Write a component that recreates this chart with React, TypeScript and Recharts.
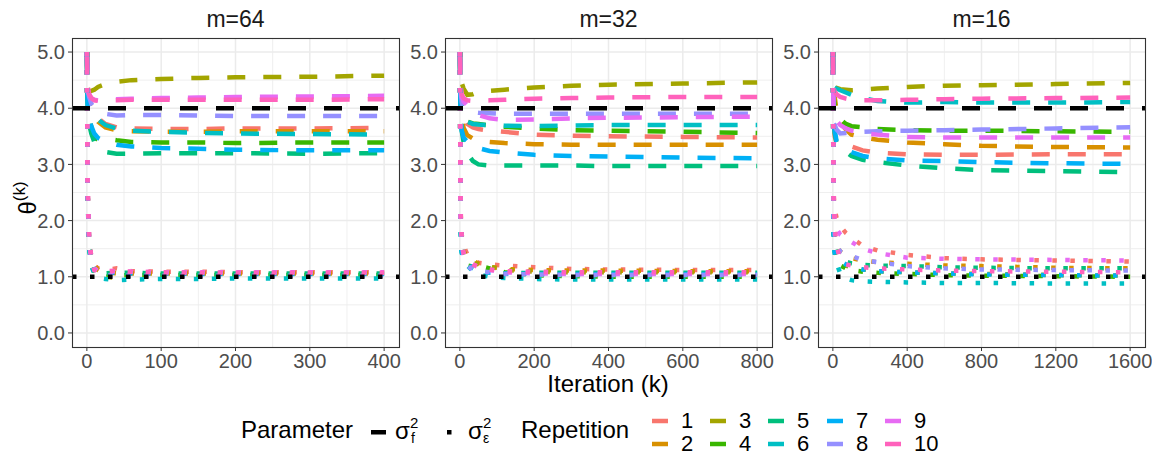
import React from 'react';
import { LineChart, Line, XAxis, YAxis, CartesianGrid, ReferenceLine } from 'recharts';

// ggplot default hue palette for 10 repetitions
const repColors = ['#F8766D', '#D89000', '#A3A500', '#39B600', '#00BF7D', '#00BFC4', '#00B0F6', '#9590FF', '#E76BF3', '#FF62BC'];
const repLabels = ['1', '2', '3', '4', '5', '6', '7', '8', '9', '10'];

const trueSigmaF = 4;
const trueSigmaE = 1;
const yTicks = [0, 1, 2, 3, 4, 5];
const yMinor = [0.5, 1.5, 2.5, 3.5, 4.5];

// m = 64
const iters64 = [0, 1, 3, 6, 10, 15, 25, 40, 60, 100, 150, 200, 300, 400];
const sigF64 = [
  [5.0, 4.32, 4.15, 3.98, 3.88, 3.82, 3.72, 3.66, 3.64, 3.63, 3.63, 3.64, 3.64, 3.65],
  [5.0, 4.3, 4.1, 3.95, 3.85, 3.76, 3.66, 3.61, 3.59, 3.58, 3.58, 3.59, 3.59, 3.59],
  [5.0, 4.35, 4.3, 4.31, 4.33, 4.38, 4.43, 4.47, 4.5, 4.52, 4.54, 4.55, 4.56, 4.58],
  [5.0, 4.2, 3.9, 3.65, 3.48, 3.44, 3.46, 3.43, 3.4, 3.39, 3.39, 3.38, 3.39, 3.39],
  [5.0, 4.0, 3.72, 3.55, 3.4, 3.3, 3.22, 3.19, 3.19, 3.2, 3.2, 3.2, 3.19, 3.2],
  [5.0, 4.3, 4.1, 3.95, 3.85, 3.8, 3.7, 3.64, 3.6, 3.58, 3.56, 3.55, 3.54, 3.53],
  [5.0, 4.1, 3.8, 3.68, 3.55, 3.47, 3.4, 3.35, 3.32, 3.29, 3.28, 3.26, 3.25, 3.25],
  [5.0, 4.33, 4.2, 4.08, 4.0, 3.95, 3.9, 3.87, 3.88, 3.88, 3.87, 3.86, 3.86, 3.86],
  [5.0, 4.35, 4.25, 4.18, 4.15, 4.14, 4.15, 4.16, 4.17, 4.18, 4.19, 4.2, 4.21, 4.22],
  [5.0, 4.4, 4.25, 4.18, 4.14, 4.13, 4.14, 4.14, 4.15, 4.15, 4.15, 4.15, 4.15, 4.16],
];
const sigE64 = [
  [5.0, 2.6, 1.65, 1.3, 1.2, 1.15, 1.12, 1.15, 1.1, 1.09, 1.09, 1.08, 1.08, 1.08],
  [5.0, 2.55, 1.6, 1.3, 1.22, 1.12, 1.08, 1.06, 1.06, 1.06, 1.06, 1.06, 1.06, 1.06],
  [5.0, 2.5, 1.6, 1.35, 1.15, 1.05, 1.0, 0.98, 1.02, 1.04, 1.04, 1.04, 1.04, 1.04],
  [5.0, 2.5, 1.55, 1.25, 1.1, 1.02, 1.0, 1.02, 1.03, 1.03, 1.03, 1.03, 1.03, 1.03],
  [5.0, 2.5, 1.55, 1.2, 1.08, 1.04, 1.06, 1.07, 1.07, 1.06, 1.06, 1.06, 1.06, 1.06],
  [5.0, 2.45, 1.5, 1.2, 1.05, 0.98, 0.96, 0.94, 0.95, 0.96, 0.96, 0.97, 0.97, 0.97],
  [5.0, 2.5, 1.6, 1.25, 1.15, 1.1, 1.08, 1.07, 1.06, 1.06, 1.05, 1.05, 1.05, 1.05],
  [5.0, 2.55, 1.6, 1.3, 1.12, 1.06, 1.03, 1.02, 1.02, 1.02, 1.02, 1.02, 1.02, 1.02],
  [5.0, 2.6, 1.65, 1.35, 1.15, 1.1, 1.08, 1.1, 1.09, 1.08, 1.08, 1.08, 1.08, 1.08],
  [5.0, 2.6, 1.7, 1.35, 1.12, 1.1, 1.1, 1.11, 1.09, 1.08, 1.07, 1.07, 1.07, 1.07],
];

// m = 32
const iters32 = [0, 2, 5, 10, 20, 35, 50, 80, 120, 200, 300, 400, 600, 800];
const sigF32 = [
  [5.0, 4.3, 4.0, 3.85, 3.72, 3.66, 3.63, 3.6, 3.58, 3.53, 3.51, 3.5, 3.49, 3.48],
  [5.0, 4.1, 3.85, 3.65, 3.52, 3.46, 3.43, 3.4, 3.38, 3.36, 3.35, 3.35, 3.35, 3.35],
  [5.0, 4.42, 4.45, 4.35, 4.24, 4.25, 4.29, 4.31, 4.33, 4.37, 4.4, 4.42, 4.44, 4.46],
  [5.0, 4.2, 4.0, 3.85, 3.76, 3.73, 3.72, 3.69, 3.67, 3.64, 3.61, 3.6, 3.58, 3.56],
  [5.0, 3.75, 3.6, 3.4, 3.2, 3.06, 3.0, 2.98, 2.98, 2.98, 2.98, 2.97, 2.97, 2.97],
  [5.0, 4.2, 4.0, 3.85, 3.76, 3.72, 3.71, 3.7, 3.69, 3.68, 3.69, 3.7, 3.7, 3.7],
  [5.0, 3.9, 3.6, 3.48, 3.4, 3.33, 3.29, 3.24, 3.21, 3.17, 3.15, 3.14, 3.12, 3.11],
  [5.0, 4.3, 4.1, 4.0, 3.95, 3.93, 3.92, 3.91, 3.9, 3.9, 3.9, 3.9, 3.9, 3.9],
  [5.0, 4.35, 4.2, 4.12, 4.05, 3.95, 3.88, 3.82, 3.79, 3.8, 3.82, 3.83, 3.84, 3.85],
  [5.0, 4.4, 4.25, 4.18, 4.14, 4.13, 4.13, 4.14, 4.15, 4.17, 4.18, 4.19, 4.2, 4.2],
];
const sigE32 = [
  [5.0, 2.2, 1.75, 1.55, 1.4, 1.3, 1.25, 1.22, 1.2, 1.17, 1.14, 1.13, 1.12, 1.12],
  [5.0, 2.0, 1.6, 1.45, 1.35, 1.28, 1.24, 1.18, 1.14, 1.12, 1.11, 1.11, 1.1, 1.1],
  [5.0, 2.1, 1.65, 1.45, 1.32, 1.25, 1.22, 1.18, 1.12, 1.09, 1.08, 1.08, 1.08, 1.08],
  [5.0, 1.9, 1.5, 1.3, 1.2, 1.18, 1.2, 1.15, 1.08, 1.03, 1.01, 1.0, 1.0, 1.0],
  [5.0, 1.9, 1.45, 1.3, 1.22, 1.15, 1.1, 1.07, 1.06, 1.07, 1.07, 1.07, 1.07, 1.07],
  [5.0, 1.85, 1.42, 1.32, 1.2, 1.1, 1.04, 1.0, 0.98, 0.96, 0.95, 0.95, 0.95, 0.95],
  [5.0, 1.9, 1.45, 1.35, 1.25, 1.15, 1.1, 1.07, 1.06, 1.05, 1.05, 1.05, 1.05, 1.05],
  [5.0, 2.0, 1.55, 1.38, 1.2, 1.12, 1.1, 1.08, 1.05, 1.04, 1.03, 1.03, 1.03, 1.03],
  [5.0, 2.05, 1.6, 1.4, 1.3, 1.22, 1.18, 1.12, 1.08, 1.06, 1.05, 1.05, 1.05, 1.05],
  [5.0, 2.15, 1.7, 1.42, 1.3, 1.22, 1.17, 1.13, 1.1, 1.09, 1.08, 1.08, 1.08, 1.08],
];

// m = 16
const iters16 = [0, 4, 10, 20, 40, 70, 100, 160, 240, 400, 600, 800, 1200, 1600];
const sigF16 = [
  [5.0, 3.9, 3.5, 3.38, 3.35, 3.35, 3.32, 3.25, 3.21, 3.18, 3.17, 3.17, 3.18, 3.18],
  [5.0, 4.42, 4.2, 3.95, 3.75, 3.62, 3.53, 3.48, 3.44, 3.39, 3.36, 3.33, 3.31, 3.3],
  [5.0, 4.4, 4.38, 4.36, 4.34, 4.33, 4.32, 4.33, 4.35, 4.38, 4.4, 4.41, 4.43, 4.45],
  [5.0, 4.2, 4.05, 3.95, 3.8, 3.72, 3.68, 3.66, 3.63, 3.61, 3.6, 3.6, 3.59, 3.58],
  [5.0, 3.9, 3.55, 3.38, 3.3, 3.22, 3.15, 3.08, 3.04, 2.98, 2.93, 2.9, 2.88, 2.86],
  [5.0, 4.38, 4.36, 4.35, 4.32, 4.28, 4.24, 4.18, 4.13, 4.1, 4.11, 4.1, 4.1, 4.11],
  [5.0, 3.9, 3.6, 3.42, 3.33, 3.27, 3.22, 3.15, 3.11, 3.07, 3.06, 3.04, 3.02, 3.01],
  [5.0, 3.72, 3.7, 3.62, 3.55, 3.56, 3.57, 3.58, 3.59, 3.6, 3.61, 3.62, 3.64, 3.66],
  [5.0, 3.85, 3.82, 3.78, 3.7, 3.64, 3.6, 3.56, 3.53, 3.49, 3.48, 3.48, 3.48, 3.48],
  [5.0, 4.35, 4.3, 4.25, 4.2, 4.17, 4.15, 4.14, 4.14, 4.15, 4.16, 4.17, 4.18, 4.19],
];
const sigE16 = [
  [5.0, 2.5, 2.2, 2.05, 1.9, 1.78, 1.7, 1.55, 1.47, 1.39, 1.33, 1.31, 1.29, 1.27],
  [5.0, 2.0, 1.7, 1.55, 1.45, 1.38, 1.33, 1.29, 1.26, 1.23, 1.2, 1.19, 1.16, 1.15],
  [5.0, 1.9, 1.55, 1.4, 1.25, 1.2, 1.17, 1.13, 1.1, 1.08, 1.06, 1.05, 1.03, 1.02],
  [5.0, 1.8, 1.45, 1.3, 1.2, 1.15, 1.12, 1.09, 1.07, 1.05, 1.03, 1.02, 1.01, 1.0],
  [5.0, 1.9, 1.6, 1.45, 1.32, 1.27, 1.24, 1.21, 1.2, 1.19, 1.17, 1.16, 1.15, 1.15],
  [5.0, 1.7, 1.4, 1.25, 1.05, 0.97, 0.94, 0.92, 0.91, 0.9, 0.89, 0.89, 0.88, 0.88],
  [5.0, 1.8, 1.45, 1.32, 1.28, 1.22, 1.18, 1.13, 1.1, 1.08, 1.06, 1.04, 1.03, 1.02],
  [5.0, 2.1, 1.75, 1.55, 1.45, 1.4, 1.37, 1.3, 1.26, 1.19, 1.15, 1.13, 1.12, 1.11],
  [5.0, 2.4, 2.0, 1.85, 1.75, 1.68, 1.62, 1.5, 1.42, 1.34, 1.32, 1.31, 1.3, 1.29],
  [5.0, 2.3, 1.9, 1.55, 1.3, 1.22, 1.2, 1.17, 1.15, 1.13, 1.11, 1.1, 1.09, 1.08],
];

const xTicks64 = [0, 100, 200, 300, 400];
const xTicks32 = [0, 200, 400, 600, 800];
const xTicks16 = [0, 400, 800, 1200, 1600];

const FONT = "'Liberation Sans', Arial, Helvetica, sans-serif";
const PLOT_TOP = 38;
const PLOT_H = 309;
const PLOT_W = 327;
const Y_AXIS_W = 60;
const X_AXIS_H = 30;
const CHART_H = 400;
const LW = 4.5;
const DASHED = `${LW * 4} ${LW * 4}`;
const DOTTED = `${LW} ${LW * 3}`;

function buildRows(iters: number[], f: number[][], e: number[][]) {
  return iters.map((k, i) => {
    const row: Record<string, number> = { k };
    f.forEach((s, j) => (row[`f${j}`] = s[i]));
    e.forEach((s, j) => (row[`e${j}`] = s[i]));
    return row;
  });
}

function minorBetween(ticks: number[]) {
  const out: number[] = [];
  for (let i = 0; i < ticks.length - 1; i++) out.push((ticks[i] + ticks[i + 1]) / 2);
  return out;
}

const panels = [
  { title: 'm=64', left: 72, rows: buildRows(iters64, sigF64, sigE64), ticks: xTicks64 },
  { title: 'm=32', left: 445, rows: buildRows(iters32, sigF32, sigE32), ticks: xTicks32 },
  { title: 'm=16', left: 818, rows: buildRows(iters16, sigF16, sigE16), ticks: xTicks16 },
];

function Panel({ rows, ticks, left }: { rows: Record<string, number>[]; ticks: number[]; left: number }) {
  const max = ticks[ticks.length - 1];
  const pad = max * 0.05;
  const tickStyle = { fill: '#4D4D4D', fontSize: 20, fontFamily: FONT };
  return (
    <div style={{ position: 'absolute', left: left - Y_AXIS_W, top: 0 }}>
      <LineChart
        width={Y_AXIS_W + PLOT_W + 10}
        height={CHART_H}
        data={rows}
        margin={{ top: PLOT_TOP, right: 10, bottom: CHART_H - PLOT_TOP - PLOT_H - X_AXIS_H, left: 0 }}
      >
        <CartesianGrid stroke="#EBEBEB" strokeWidth={0.8} horizontalValues={yMinor} verticalValues={minorBetween(ticks)} />
        <CartesianGrid stroke="#EBEBEB" strokeWidth={1.5} horizontalValues={yTicks} verticalValues={ticks} />
        <XAxis
          dataKey="k"
          type="number"
          domain={[-pad, max + pad]}
          allowDataOverflow
          ticks={ticks}
          height={X_AXIS_H}
          axisLine={false}
          tickSize={4}
          tickMargin={3}
          tickLine={{ stroke: '#333333' }}
          tick={tickStyle}
        />
        <YAxis
          type="number"
          domain={[-0.25, 5.25]}
          allowDataOverflow
          ticks={yTicks}
          width={Y_AXIS_W}
          axisLine={false}
          tickSize={4}
          tickMargin={3}
          tickLine={{ stroke: '#333333' }}
          tick={tickStyle}
          tickFormatter={(v: number) => v.toFixed(1)}
        />
        {repColors.map((c, j) => (
          <Line
            key={`f${j}`}
            dataKey={`f${j}`}
            stroke={c}
            strokeWidth={LW}
            strokeDasharray={DASHED}
            strokeLinecap="butt"
            dot={false}
            activeDot={false}
            isAnimationActive={false}
          />
        ))}
        {repColors.map((c, j) => (
          <Line
            key={`e${j}`}
            dataKey={`e${j}`}
            stroke={c}
            strokeWidth={LW}
            strokeDasharray={DOTTED}
            strokeLinecap="butt"
            dot={false}
            activeDot={false}
            isAnimationActive={false}
          />
        ))}
        <ReferenceLine y={trueSigmaF} stroke="#000" strokeWidth={LW} strokeDasharray={DASHED} />
        <ReferenceLine y={trueSigmaE} stroke="#000" strokeWidth={LW} strokeDasharray={DOTTED} />
      </LineChart>
    </div>
  );
}

export default function App() {
  const keyCols = [652, 710, 768, 827, 885];
  return (
    <div style={{ position: 'absolute', left: 0, top: 0, width: 1152, height: 456, background: '#fff', fontFamily: FONT }}>
      {panels.map((p) => (
        <Panel key={p.title} rows={p.rows} ticks={p.ticks} left={p.left} />
      ))}
      <svg width={1152} height={456} style={{ position: 'absolute', left: 0, top: 0, pointerEvents: 'none' }} fontFamily={FONT}>
        {panels.map((p) => (
          <g key={p.title}>
            <rect x={p.left + 0.5} y={PLOT_TOP + 0.5} width={PLOT_W} height={PLOT_H} fill="none" stroke="#333333" strokeWidth={1.1} />
            <text x={p.left + PLOT_W / 2} y={27} textAnchor="middle" fontSize={23} fill="#1A1A1A">
              {p.title}
            </text>
          </g>
        ))}
        <text transform="translate(36,198) rotate(-90)" textAnchor="middle" fontSize={24} fill="#000">
          θ<tspan dy={-11} fontSize={17}>(k)</tspan>
        </text>
        <text x={608} y={392} textAnchor="middle" fontSize={24} fill="#000">
          Iteration (k)
        </text>

        {/* Parameter legend */}
        <text x={241} y={438} fontSize={24} fill="#000">Parameter</text>
        <rect x={371} y={430} width={15} height={LW} fill="#000" />
        <text x={395} y={439} fontSize={24} fill="#000">σ</text>
        <text x={410} y={428} fontSize={15} fill="#000">2</text>
        <text x={411} y={443} fontSize={14} fill="#000">f</text>
        <rect x={447} y={430} width={LW} height={LW} fill="#000" />
        <text x={468} y={439} fontSize={24} fill="#000">σ</text>
        <text x={483} y={428} fontSize={15} fill="#000">2</text>
        <text x={483} y={443} fontSize={14} fill="#000">ε</text>

        {/* Repetition legend */}
        <text x={521} y={438} fontSize={24} fill="#000">Repetition</text>
        {repLabels.map((lab, i) => {
          const col = Math.floor(i / 2);
          const row = i % 2;
          const x = keyCols[col];
          const yc = row === 0 ? 421 : 444;
          return (
            <g key={lab}>
              <rect x={x} y={yc - LW / 2} width={16} height={LW} fill={repColors[i]} />
              <text x={x + 29} y={row === 0 ? 428 : 451} fontSize={22} fill="#000">{lab}</text>
            </g>
          );
        })}
      </svg>
    </div>
  );
}
